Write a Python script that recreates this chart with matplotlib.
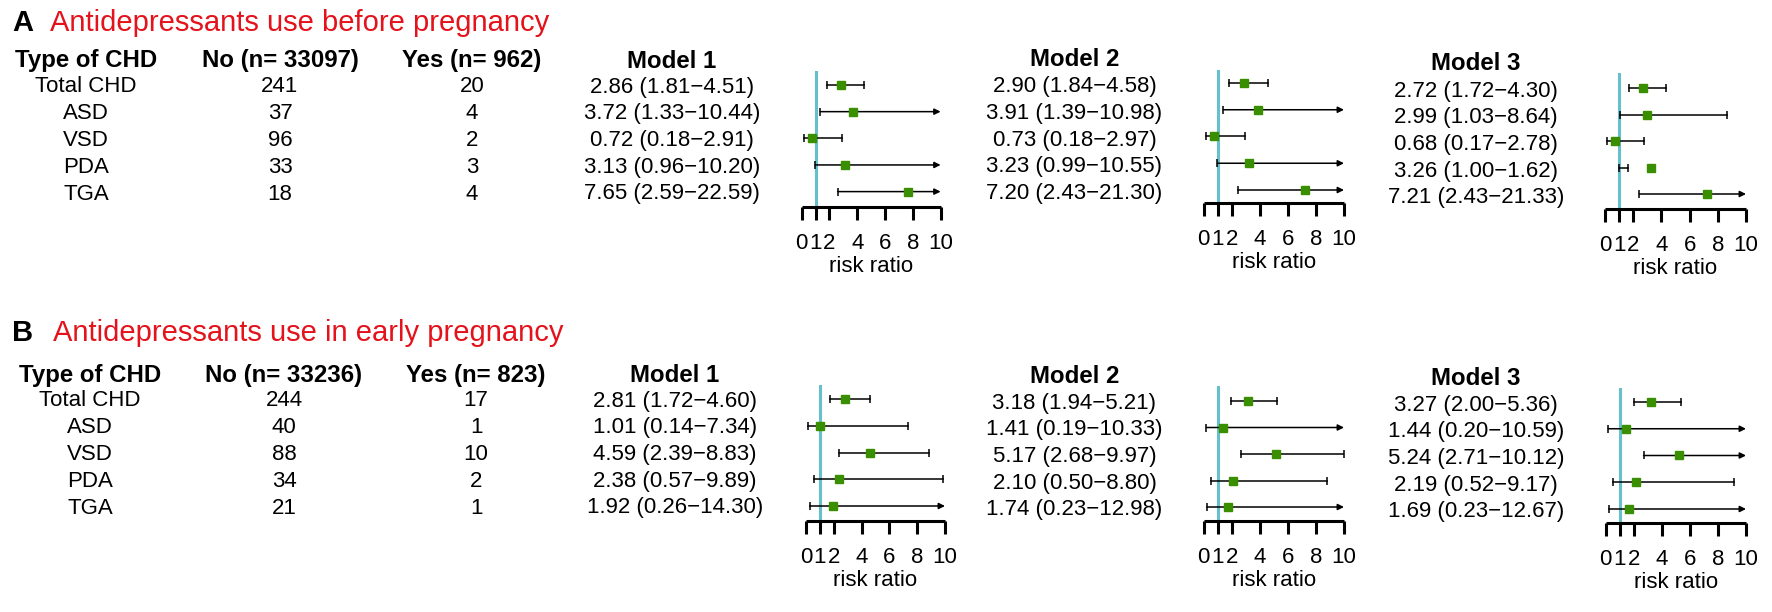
import matplotlib
matplotlib.use("Agg")
import matplotlib.pyplot as plt

plt.rcParams['font.family'] = ['Liberation Sans', 'DejaVu Sans']

# ---------------- data ----------------
types = ["Total CHD", "ASD", "VSD", "PDA", "TGA"]

A_title = "Antidepressants use before pregnancy"
A_no_hdr = "No (n= 33097)"
A_yes_hdr = "Yes (n= 962)"
A_no = [241, 37, 96, 33, 18]
A_yes = [20, 4, 2, 3, 4]
A_m1_est = [2.86, 3.72, 0.72, 3.13, 7.65]
A_m1_lo = [1.81, 1.33, 0.18, 0.96, 2.59]
A_m1_hi = [4.51, 10.44, 2.91, 10.20, 22.59]
A_m2_est = [2.90, 3.91, 0.73, 3.23, 7.20]
A_m2_lo = [1.84, 1.39, 0.18, 0.99, 2.43]
A_m2_hi = [4.58, 10.98, 2.97, 10.55, 21.30]
A_m3_est = [2.72, 2.99, 0.68, 3.26, 7.21]
A_m3_lo = [1.72, 1.03, 0.17, 1.00, 2.43]
A_m3_hi = [4.30, 8.64, 2.78, 1.62, 21.33]

B_title = "Antidepressants use in early pregnancy"
B_no_hdr = "No (n= 33236)"
B_yes_hdr = "Yes (n= 823)"
B_no = [244, 40, 88, 34, 21]
B_yes = [17, 1, 10, 2, 1]
B_m1_est = [2.81, 1.01, 4.59, 2.38, 1.92]
B_m1_lo = [1.72, 0.14, 2.39, 0.57, 0.26]
B_m1_hi = [4.60, 7.34, 8.83, 9.89, 14.30]
B_m2_est = [3.18, 1.41, 5.17, 2.10, 1.74]
B_m2_lo = [1.94, 0.19, 2.68, 0.50, 0.23]
B_m2_hi = [5.21, 10.33, 9.97, 8.80, 12.98]
B_m3_est = [3.27, 1.44, 5.24, 2.19, 1.69]
B_m3_lo = [2.00, 0.20, 2.71, 0.52, 0.23]
B_m3_hi = [5.36, 10.59, 10.12, 9.17, 12.67]

xticks = [0, 1, 2, 4, 6, 8, 10]
model_names = ["Model 1", "Model 2", "Model 3"]

# ---------------- layout ----------------
W, H = 1772, 612
DPI = 100
fig = plt.figure(figsize=(W / DPI, H / DPI), dpi=DPI)

RED = "#e3121b"
GREEN = "#3a8f00"
CYAN = "#66c0cb"
FS = 16
FSH = 17.3
FST = 21
TOFF = 2.0   # shift so that cap centres land on the measured row centres


def fx(x):
    return x / W


def fy(y):
    return 1 - y / H


def txt(x, y, s, off=TOFF, **kw):
    fig.text(fx(x), fy(y + off), s, **kw)


def forest(left, right, top, axis_y, row0, step, est, lo, hi):
    ax = fig.add_axes([fx(left), fy(axis_y), (right - left) / W, (axis_y - top) / H])
    n = len(est)
    ymin = -(row0 - top) / step
    ymax = (axis_y - row0) / step
    ax.set_ylim(ymax, ymin)
    ax.set_xlim(0, 10)
    ax.axvline(1, color=CYAN, lw=2.2, zorder=1)
    for i in range(n):
        l, u, e = lo[i], hi[i], est[i]
        if u > 10:
            ax.annotate("", xy=(10, i), xytext=(l, i),
                        arrowprops=dict(arrowstyle="-|>", lw=1.1, color="black",
                                        mutation_scale=9, shrinkA=0, shrinkB=0),
                        zorder=2)
            ax.plot([l], [i], marker="|", ms=6, mew=1.1, color="black", zorder=2)
        else:
            ax.plot([l, u], [i, i], color="black", lw=1.1, zorder=2)
            ax.plot([l, u], [i, i], ls="none", marker="|", ms=6, mew=1.1,
                    color="black", zorder=2)
        ax.plot([e], [i], marker="s", ms=5.5, color=GREEN, mec=GREEN, zorder=3)
    for s in ["top", "left", "right"]:
        ax.spines[s].set_visible(False)
    ax.spines["bottom"].set_linewidth(2.2)
    ax.spines["bottom"].set_capstyle("butt")
    ax.set_yticks([])
    ax.set_xticks(xticks)
    ax.set_xticklabels([str(t) for t in xticks])
    ax.tick_params(axis="x", direction="out", length=9.5, width=2.2, labelsize=FS, pad=9)
    ax.set_xlabel("risk ratio", fontsize=FS, labelpad=2)
    ax.patch.set_alpha(0)
    return ax


def panel(letter, title, title_y, title_x, hdr_y, row_y0, col_dx, no_hdr, yes_hdr,
          no_vals, yes_vals, models, model_hdr_y, model_row_y0, model_x, forests):
    step = 26.75
    txt(12, title_y, letter, off=3, fontsize=FST, fontweight="bold", va="center", ha="left")
    txt(title_x, title_y, title, off=3, fontsize=FST, color=RED, va="center", ha="left")
    txt(86 + col_dx, hdr_y, "Type of CHD", fontsize=FSH, fontweight="bold", ha="center", va="center")
    txt(280 + col_dx, hdr_y, no_hdr, fontsize=FSH, fontweight="bold", ha="center", va="center")
    txt(472 + col_dx, hdr_y, yes_hdr, fontsize=FSH, fontweight="bold", ha="center", va="center")
    for i, t in enumerate(types):
        y = row_y0 + step * i
        txt(86 + col_dx, y, t, fontsize=FS, ha="center", va="center")
        txt(280 + col_dx, y, str(no_vals[i]), fontsize=FS, ha="center", va="center")
        txt(472 + col_dx, y, str(yes_vals[i]), fontsize=FS, ha="center", va="center")
    for k, (est, lo, hi) in enumerate(models):
        txt(model_x[k], model_hdr_y[k], model_names[k], fontsize=FSH, fontweight="bold",
            ha="center", va="center")
        for i in range(len(est)):
            s = f"{est[i]:.2f} ({lo[i]:.2f}\u2212{hi[i]:.2f})"
            txt(model_x[k], model_row_y0[k] + step * i, s, fontsize=FS, ha="center", va="center")
        fl, fr, ft, fa, fr0, fst = forests[k]
        forest(fl, fr, ft, fa, fr0, fst, est, lo, hi)


panel("A", A_title, 20, 50, 59, 85, 0, A_no_hdr, A_yes_hdr, A_no, A_yes,
      [(A_m1_est, A_m1_lo, A_m1_hi), (A_m2_est, A_m2_lo, A_m2_hi), (A_m3_est, A_m3_lo, A_m3_hi)],
      [59, 58, 61.7], [85, 84.7, 89], [672, 1074.5, 1476],
      [(801.7, 940.6, 71, 207, 85, 26.65),
       (1203.6, 1344, 69.5, 203, 83, 26.75),
       (1605, 1746, 73, 209, 88, 26.5)])

panel("B", B_title, 330, 53, 373.5, 399, 4, B_no_hdr, B_yes_hdr, B_no, B_yes,
      [(B_m1_est, B_m1_lo, B_m1_hi), (B_m2_est, B_m2_lo, B_m2_hi), (B_m3_est, B_m3_lo, B_m3_hi)],
      [373.5, 374.7, 376.7], [399, 401, 403], [675, 1074.5, 1476],
      [(806, 945, 384.5, 521, 399, 26.75),
       (1203.6, 1344, 386, 521, 401, 26.5),
       (1605.5, 1746, 388, 523, 402, 26.75)])

fig.savefig("out.png", dpi=DPI, facecolor="white")
